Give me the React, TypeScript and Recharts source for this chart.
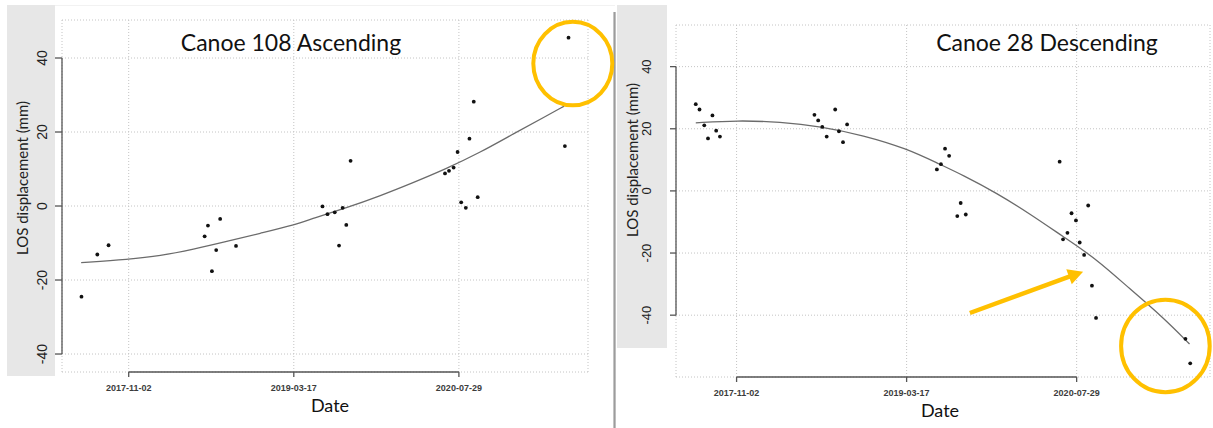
import React from "react";
import {
  ComposedChart,
  Scatter,
  Line,
  XAxis,
  YAxis,
  CartesianGrid,
  ReferenceLine,
  ReferenceDot,
} from "recharts";

// axis ticks shared by both panels
const tickDates = ["2017-11-02", "2019-03-17", "2020-07-29"];
const yTicks = [-40, -20, 0, 20, 40];

// Canoe 108 Ascending
const ascDates = [
  "2017-06-12", "2017-07-30", "2017-09-02", "2018-06-20", "2018-06-30", "2018-07-12",
  "2018-07-25", "2018-08-06", "2018-09-23", "2019-06-12", "2019-06-27", "2019-07-19",
  "2019-08-01", "2019-08-12", "2019-08-23", "2019-09-05", "2020-06-17", "2020-06-29",
  "2020-07-13", "2020-07-25", "2020-08-05", "2020-08-19", "2020-08-30", "2020-09-12",
  "2020-09-24", "2021-06-15", "2021-06-26",
];
const ascValues = [
  -24.5, -13.1, -10.6, -8.2, -5.3, -17.6, -11.9, -3.5, -10.8, -0.1, -2.2, -1.7, -10.7, -0.5,
  -5.1, 12.2, 8.8, 9.5, 10.4, 14.6, 1.0, -0.5, 18.2, 28.2, 2.4, 16.2, 45.5,
];
const ascFitDates = [
  "2017-06-11", "2017-11-02", "2018-02-05", "2018-05-17", "2018-08-26", "2018-12-04",
  "2019-03-21", "2019-05-15", "2019-08-23", "2019-12-02", "2020-03-12", "2020-06-21",
  "2020-09-30", "2021-01-08", "2021-04-19", "2021-06-13",
];
const ascFitValues = [
  -15.3, -14.4, -13.5, -11.7, -9.6, -7.4, -5.1, -3.3, -0.5, 2.7, 6.3, 10.1, 14.4, 19.4, 24.3, 27.0,
];

// Canoe 28 Descending
const descDates = [
  "2017-07-05", "2017-07-16", "2017-07-30", "2017-08-10", "2017-08-23", "2017-09-03",
  "2017-09-14", "2018-06-19", "2018-06-30", "2018-07-12", "2018-07-25", "2018-08-19",
  "2018-08-30", "2018-09-11", "2018-09-23", "2019-06-14", "2019-06-26", "2019-07-08",
  "2019-07-20", "2019-08-13", "2019-08-23", "2019-09-07", "2020-06-09", "2020-06-19",
  "2020-07-02", "2020-07-14", "2020-07-27", "2020-08-07", "2020-08-20", "2020-09-01",
  "2020-09-12", "2020-09-24", "2021-06-14", "2021-06-28",
];
const descValues = [
  27.9, 26.2, 21.1, 16.9, 24.3, 19.4, 17.5, 24.5, 22.7, 20.6, 17.5, 26.2, 19.2, 15.7, 21.4,
  6.9, 8.6, 13.6, 11.3, -8.1, -3.9, -7.6, 9.4, -15.6, -13.5, -7.2, -9.5, -16.6, -20.6, -4.7,
  -30.5, -40.9, -47.6, -55.5,
];
const descFitDates = [
  "2017-07-05", "2017-11-04", "2018-03-11", "2018-07-06", "2018-11-10", "2019-03-18",
  "2019-06-18", "2019-08-31", "2019-12-07", "2020-03-14", "2020-06-19", "2020-09-25",
  "2021-01-01", "2021-04-09", "2021-06-26",
];
const descFitValues = [
  21.9, 22.7, 22.2, 20.8, 17.9, 13.6, 8.8, 5.0, -0.7, -7.4, -14.7, -21.9, -31.5, -40.7, -49.3,
];

const GOLD = "#FFC000";
const AXIS = "#555";

const toMs = (d: string) => Date.parse(d + "T00:00:00Z");
const fmtDate = (v: number) => new Date(v).toISOString().slice(0, 10);
const zip = (dates: string[], vals: number[]) => dates.map((d, i) => ({ t: toMs(d), v: vals[i] }));

// R pads the data range by 4% on each side
const rRange = (pts: { t: number }[]): [number, number] => {
  const ts = pts.map((p) => p.t);
  const lo = Math.min(...ts);
  const hi = Math.max(...ts);
  const pad = (hi - lo) * 0.04;
  return [lo - pad, hi + pad];
};

function XTick(props: any) {
  const { x, y, payload } = props;
  return (
    <text
      x={x}
      y={y + 11}
      textAnchor="middle"
      dominantBaseline="central"
      fontFamily="'Liberation Sans', Arial, sans-serif"
      fontWeight="bold"
      fontSize={9}
      fill="#3c3c3c"
    >
      {fmtDate(payload.value)}
    </text>
  );
}

function yTick(off: number, size: number) {
  return (props: any) => {
    const cx = props.x - off;
    return (
      <text
        x={cx}
        y={props.y}
        transform={`rotate(-90 ${cx} ${props.y})`}
        textAnchor="middle"
        dominantBaseline="central"
        fontFamily="'Liberation Sans', Arial, sans-serif"
        fontSize={size}
        fill="#222"
      >
        {props.payload.value}
      </text>
    );
  };
}

const dot = (p: any) => <circle cx={p.cx} cy={p.cy} r={1.9} fill="#111" />;

function arrowShape(p: any) {
  const { x1, y1, x2, y2 } = p;
  const len = Math.hypot(x2 - x1, y2 - y1);
  const ux = (x2 - x1) / len;
  const uy = (y2 - y1) / len;
  const hl = 15;
  const hw = 8;
  const bx = x2 - ux * hl;
  const by = y2 - uy * hl;
  return (
    <g>
      <line x1={x1} y1={y1} x2={bx + ux} y2={by + uy} stroke={GOLD} strokeWidth={4.5} />
      <polygon
        points={`${x2},${y2} ${bx - uy * hw},${by + ux * hw} ${bx + uy * hw},${by - ux * hw}`}
        fill={GOLD}
      />
    </g>
  );
}

interface PanelProps {
  points: { t: number; v: number }[];
  fit: { t: number; v: number }[];
  yDomain: [number, number];
  width: number;
  top: number;
  right: number;
  yAxisWidth: number;
  xAxisHeight: number;
  yTickSize: number;
  yTickOff: number;
  yTickFont: number;
  ring: { date: string; value: number; rx: number; ry: number };
  arrow?: { from: [string, number]; to: [string, number] };
}

function Panel(p: PanelProps) {
  const xDomain = rRange(p.points);
  const tickMs = tickDates.map(toMs);
  const tickLine = { stroke: AXIS, strokeWidth: 1.3 };
  return (
    <ComposedChart width={p.width} height={428} margin={{ top: p.top, right: p.right, bottom: 0, left: 0 }}>
      <CartesianGrid stroke="#c4c4c4" strokeDasharray="1 2" />
      <XAxis
        type="number"
        dataKey="t"
        domain={xDomain}
        ticks={tickMs}
        interval={0}
        height={p.xAxisHeight}
        axisLine={false}
        tickLine={tickLine}
        tickSize={5}
        tickMargin={0}
        tick={XTick}
        allowDataOverflow
      />
      <YAxis
        type="number"
        domain={p.yDomain}
        ticks={yTicks}
        interval={0}
        width={p.yAxisWidth}
        axisLine={false}
        tickLine={tickLine}
        tickSize={p.yTickSize}
        tickMargin={0}
        tick={yTick(p.yTickOff, p.yTickFont)}
        allowDataOverflow
      />
      <ReferenceLine
        segment={[{ x: xDomain[0], y: -40 }, { x: xDomain[0], y: 40 }]}
        stroke={AXIS}
        strokeWidth={1.3}
        ifOverflow="visible"
      />
      <ReferenceLine
        segment={[{ x: tickMs[0], y: p.yDomain[0] }, { x: tickMs[2], y: p.yDomain[0] }]}
        stroke={AXIS}
        strokeWidth={1.3}
        ifOverflow="visible"
      />
      <Line
        data={p.fit}
        dataKey="v"
        type="basis"
        stroke="#6b6b6b"
        strokeWidth={1.3}
        dot={false}
        activeDot={false}
        isAnimationActive={false}
      />
      <Scatter data={p.points} dataKey="v" shape={dot} isAnimationActive={false} />
      <ReferenceDot
        x={toMs(p.ring.date)}
        y={p.ring.value}
        ifOverflow="visible"
        shape={(s: any) => (
          <ellipse cx={s.cx} cy={s.cy} rx={p.ring.rx} ry={p.ring.ry} fill="none" stroke={GOLD} strokeWidth={4} />
        )}
      />
      {p.arrow && (
        <ReferenceLine
          segment={[
            { x: toMs(p.arrow.from[0]), y: p.arrow.from[1] },
            { x: toMs(p.arrow.to[0]), y: p.arrow.to[1] },
          ]}
          ifOverflow="visible"
          shape={arrowShape}
        />
      )}
    </ComposedChart>
  );
}

const abs = (l: number, t: number, w: number, h: number, extra: React.CSSProperties = {}): React.CSSProperties => ({
  position: "absolute",
  left: l,
  top: t,
  width: w,
  height: h,
  ...extra,
});

export default function App() {
  const ascPts = zip(ascDates, ascValues);
  const ascFit = zip(ascFitDates, ascFitValues);
  const descPts = zip(descDates, descValues);
  const descFit = zip(descFitDates, descFitValues);
  const titleFont = "Lato, 'Open Sans', sans-serif";

  return (
    <div style={abs(0, 0, 1213, 428, { background: "#fff", overflow: "hidden" })}>
      {/* panel frames and grey strips */}
      <div style={abs(7, 5, 608, 422, { borderBottom: "2px solid #dcdcdc", borderTop: "1px solid #f2f2f2" })} />
      <div style={abs(7, 5, 48, 371, { background: "#e7e7e7" })} />
      <div style={abs(617, 5, 50, 343, { background: "#e7e7e7" })} />
      <div style={abs(613, 12, 3, 416, { background: "linear-gradient(90deg,#d8d8d8,#9c9c9c,#d0d0d0)" })} />

      <div style={abs(0, 0, 615, 428)}>
        <Panel
          points={ascPts}
          fit={ascFit}
          yDomain={[-44.86, 50.27]}
          width={615}
          top={20}
          right={27}
          yAxisWidth={62}
          xAxisHeight={56}
          yTickSize={7}
          yTickOff={13}
          yTickFont={14}
          ring={{ date: "2021-07-09", value: 38.5, rx: 39.5, ry: 41.7 }}
        />
      </div>
      <div style={abs(615, 0, 598, 428)}>
        <Panel
          points={descPts}
          fit={descFit}
          yDomain={[-59.9, 53.4]}
          width={598}
          top={25}
          right={3}
          yAxisWidth={61}
          xAxisHeight={51}
          yTickSize={6}
          yTickOff={23}
          yTickFont={13}
          ring={{ date: "2021-04-16", value: -49.9, rx: 44.3, ry: 46.3 }}
          arrow={{ from: ["2019-09-19", -39.3], to: ["2020-08-17", -26.0] }}
        />
      </div>

      <svg width={1213} height={428} style={abs(0, 0, 1213, 428, { pointerEvents: "none" })}>
        <text x={291} y={42} textAnchor="middle" dominantBaseline="central" fontFamily={titleFont} fontSize={23} fill="#111">
          Canoe 108 Ascending
        </text>
        <text x={1047} y={42} textAnchor="middle" dominantBaseline="central" fontFamily={titleFont} fontSize={23} fill="#111">
          Canoe 28 Descending
        </text>
        <text x={330} y={405} textAnchor="middle" dominantBaseline="central" fontFamily={titleFont} fontSize={18} fill="#111">
          Date
        </text>
        <text x={940} y={410} textAnchor="middle" dominantBaseline="central" fontFamily={titleFont} fontSize={18} fill="#111">
          Date
        </text>
        <text
          x={22}
          y={178}
          transform="rotate(-90 22 178)"
          textAnchor="middle"
          dominantBaseline="central"
          fontFamily={titleFont}
          fontSize={15}
          fill="#222"
        >
          LOS displacement (mm)
        </text>
        <text
          x={632}
          y={160}
          transform="rotate(-90 632 160)"
          textAnchor="middle"
          dominantBaseline="central"
          fontFamily={titleFont}
          fontSize={15}
          fill="#222"
        >
          LOS displacement (mm)
        </text>
      </svg>
    </div>
  );
}
